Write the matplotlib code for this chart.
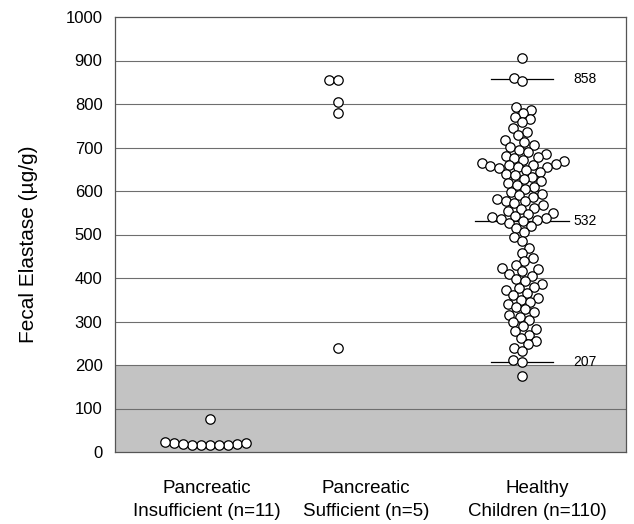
import numpy as np
import matplotlib
matplotlib.use('Agg')
import matplotlib.pyplot as plt

plt.rcParams['font.family'] = ['Liberation Sans', 'DejaVu Sans']

# data
groups = ['Pancreatic\nInsufficient (n=11)', 'Pancreatic\nSufficient (n=5)', 'Healthy\nChildren (n=110)']
insufficient = [15, 15, 16, 18, 20, 22, 20, 18, 17, 15, 75]
sufficient = [855, 855, 805, 780, 240]
healthy = [905,
           860, 852,
           793, 786, 780,
           770, 765, 758,
           745, 735, 728,
           718, 712, 705, 702,
           695, 690, 685, 680, 678, 676,
           672, 668, 665, 662, 660, 660, 658, 656, 655, 652,
           648, 644, 640, 636, 632, 628,
           622, 618, 614, 610, 605,
           598, 594, 590, 586, 582, 578, 576,
           572, 568, 562, 558, 554, 550,
           546, 542, 540, 538, 536, 534, 530, 527,
           520, 515, 505,
           495, 485,
           470, 458,
           445, 438, 430,
           424, 420, 415, 410, 404,
           398, 392, 386, 380, 376,
           372, 366, 360, 355, 350,
           345, 340, 333, 328,
           322, 316, 310, 304,
           298, 290, 283, 278,
           270, 262, 255,
           248, 240, 232,
           212, 208,
           175]
percentiles = [207, 532, 858]
cutoff = 200

# layout (pixels)
W, H = 634, 524
left, right, top, bottom = 115, 626, 17, 452
group_px = [210, 338, 522]
label_px = [207, 366, 537]
dot_px = 9.0


def swarm(vals, d):
    # simple beeswarm, offsets in pixels
    ypx = np.asarray(vals, float) * (bottom - top) / 1000.0
    order = np.argsort(ypx)
    placed = []
    xs = np.zeros(len(vals))
    for i in order:
        y = ypx[i]
        cands = [0.0]
        near = [(px, py) for px, py in placed if abs(py - y) < d]
        for px, py in near:
            dx = np.sqrt(d * d - (py - y) ** 2)
            cands += [px + dx, px - dx]
        cands.sort(key=lambda c: (abs(c), c))
        for c in cands:
            if all((c - px) ** 2 + (y - py) ** 2 >= d * d - 1e-6 for px, py in near):
                xs[i] = c
                break
        placed.append((xs[i], y))
    return xs


fig = plt.figure(figsize=(W / 100, H / 100), dpi=100)
ax = fig.add_axes([left / W, 1 - bottom / H, (right - left) / W, (bottom - top) / H])
ax.set_xlim(left, right)
ax.set_ylim(0, 1000)

ax.axhspan(0, cutoff, color='#c3c3c3', zorder=0, lw=0)
for v in range(100, 1000, 100):
    ax.axhline(v, color='#6e6e6e', lw=0.8, zorder=1)

for gx, vals in zip(group_px, [insufficient, sufficient, healthy]):
    xs = gx + swarm(vals, dot_px)
    ax.scatter(xs, vals, s=46, facecolor='white', edgecolor='black', linewidth=0.9, zorder=3)

# percentile markers
half = [31, 47, 31]
for p, h in zip(percentiles, half):
    ax.plot([group_px[2] - h, group_px[2] + h], [p, p], color='black', lw=0.9, zorder=2)
    ax.text(573, p, str(p), fontsize=10, va='center', ha='left', zorder=4,
            bbox=dict(facecolor='white', edgecolor='none', pad=1) if p != 207 else None)

ax.set_yticks(range(0, 1001, 100))
ax.tick_params(axis='y', length=0, labelsize=12, pad=9)
ax.set_xticks(label_px)
ax.set_xticklabels(groups, fontsize=13.5, linespacing=1.45)
ax.tick_params(axis='x', length=0, pad=20)
ax.set_ylabel('Fecal Elastase (µg/g)', fontsize=15)
ax.yaxis.set_label_coords(-0.151, 0.477)
for s in ax.spines.values():
    s.set_color('#555555')
    s.set_linewidth(0.9)

fig.savefig('out.png', dpi=100)
